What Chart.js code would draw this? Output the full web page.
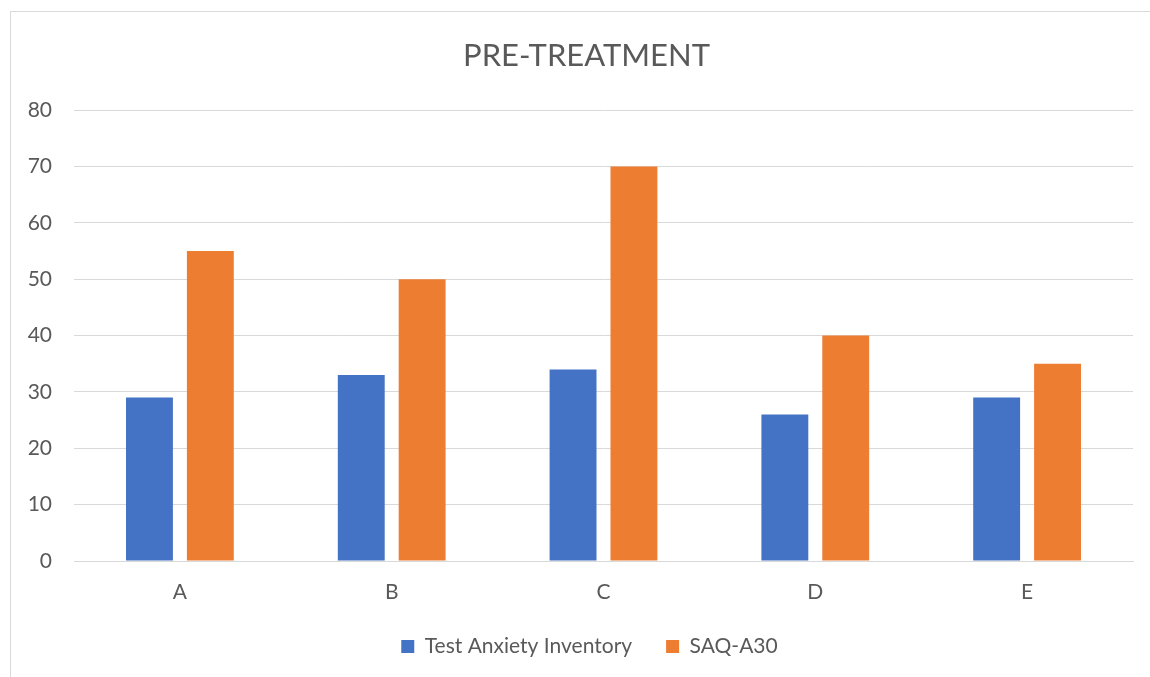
<!DOCTYPE html>
<html>
<head>
<meta charset="utf-8">
<script src="https://cdn.jsdelivr.net/npm/chart.js@4"></script>
<style>
  html, body { margin: 0; padding: 0; background: #fff; }
  #wrap { position: absolute; left: 0; top: 0; width: 1150px; height: 677px; }
  #frame { position: absolute; left: 10px; top: 11px; width: 1200px; height: 700px; border: 1px solid #d9d9d9; box-sizing: border-box; }
  canvas { position: absolute; left: 0; top: 0; }
</style>
</head>
<body>
<div id="wrap">
  <div id="frame"></div>
  <canvas id="c" width="1150" height="677"></canvas>
</div>
<script>
const categories = ['A', 'B', 'C', 'D', 'E'];
const seriesNames = ['Test Anxiety Inventory', 'SAQ-A30'];
const testAnxietyInventory = [29, 33, 34, 26, 29];
const saqA30 = [55, 50, 70, 40, 35];
const yTicks = [0, 10, 20, 30, 40, 50, 60, 70, 80];
const chartTitle = 'PRE-TREATMENT';

const FONT = 'Lato, "Open Sans", sans-serif';
const TEXT = '#595959';

// Excel centers title/legend over a wider original canvas; nudge them right
const shiftBoxes = {
  id: 'shiftBoxes',
  afterLayout(chart) {
    if (chart.legend) { chart.legend.left += 23; chart.legend.right += 23; }
    if (chart.titleBlock) { chart.titleBlock.left += 20; chart.titleBlock.right += 20; }
  }
};

new Chart(document.getElementById('c'), {
  type: 'bar',
  data: {
    labels: categories,
    datasets: [
      { label: seriesNames[0], data: testAnxietyInventory, backgroundColor: '#4472C4' },
      { label: seriesNames[1], data: saqA30, backgroundColor: '#ED7D31' }
    ]
  },
  plugins: [shiftBoxes],
  options: {
    responsive: false,
    animation: false,
    devicePixelRatio: 1,
    categoryPercentage: 0.575,
    barPercentage: 0.77,
    layout: { padding: { left: 0, right: 17, top: 0, bottom: 10 } },
    plugins: {
      title: {
        display: true,
        text: chartTitle,
        color: TEXT,
        font: { family: FONT, size: 31, weight: 'normal' },
        padding: { top: 37, bottom: 36 }
      },
      legend: {
        position: 'bottom',
        labels: {
          color: TEXT,
          font: { family: FONT, size: 21 },
          boxWidth: 13,
          boxHeight: 13,
          padding: 34
        }
      },
      tooltip: { enabled: false }
    },
    scales: {
      x: {
        grid: { display: false, drawTicks: false },
        border: { display: true, color: '#d9d9d9', width: 1 },
        ticks: { color: TEXT, font: { family: FONT, size: 21 }, padding: 19 },
        afterFit: (s) => { s.height = 41; }
      },
      y: {
        min: 0,
        max: 80,
        afterBuildTicks: (s) => { s.ticks = yTicks.map(v => ({ value: v })); },
        grid: { color: '#d9d9d9', drawTicks: false },
        border: { display: false },
        ticks: { color: TEXT, font: { family: FONT, size: 21 }, padding: 22 },
        afterFit: (s) => { s.width = 74; }
      }
    }
  }
});
</script>
</body>
</html>
